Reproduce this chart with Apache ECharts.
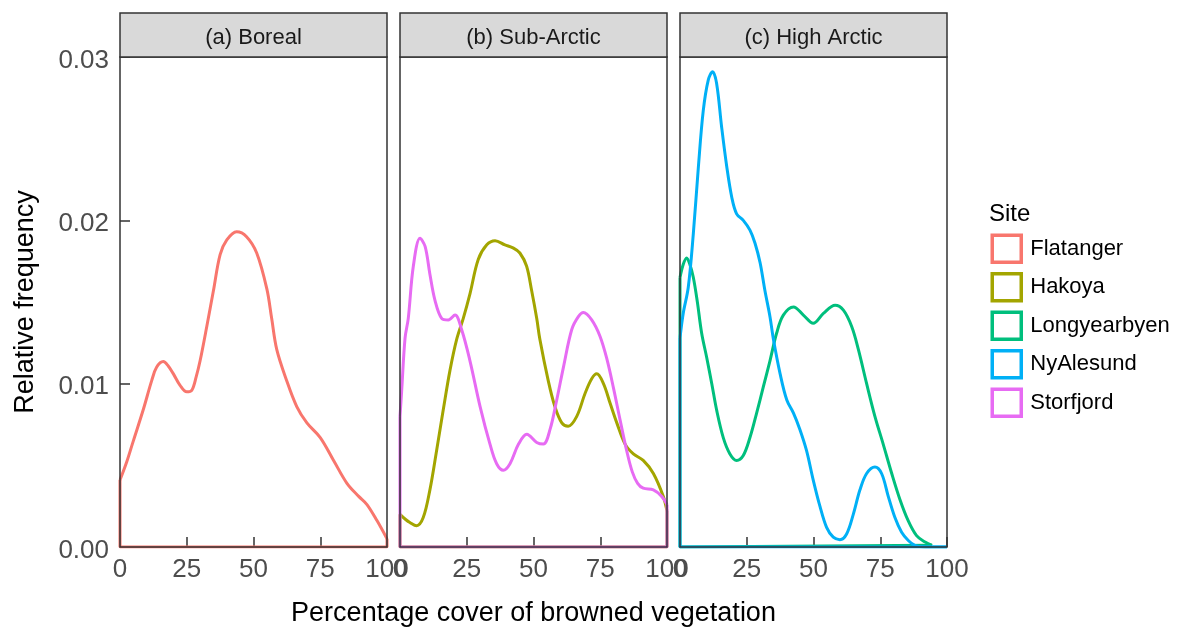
<!DOCTYPE html>
<html>
<head>
<meta charset="utf-8">
<script src="https://cdn.jsdelivr.net/npm/echarts@6/dist/echarts.min.js"></script>
<style>
  html, body { margin: 0; padding: 0; background: #ffffff; }
  #chart { width: 1177px; height: 628px; }
</style>
</head>
<body>
<div id="chart"></div>
<script>
// Sites, facet panels and tick values
const sites = ['Flatanger', 'Hakoya', 'Longyearbyen', 'NyAlesund', 'Storfjord'];
const siteColors = ['#F8766D', '#A3A500', '#00BF7D', '#00B0F6', '#E76BF3'];
const panelTitles = ['(a) Boreal', '(b) Sub-Arctic', '(c) High Arctic'];
const panelSites = [['Flatanger'], ['Hakoya', 'Storfjord'], ['Longyearbyen', 'NyAlesund']];
const xTicks = [0, 25, 50, 75, 100];
const yTicks = [0, 0.01, 0.02, 0.03];

// Density estimates: [percentage cover, relative frequency]
const flatanger = [
  [0, 0.0041], [2.5, 0.0052], [5, 0.0065], [8.7, 0.0084], [11.9, 0.0102], [13.7, 0.0110],
  [16.2, 0.01135], [18, 0.0111], [20, 0.0106], [22.5, 0.0099], [25, 0.0095], [26.9, 0.0096],
  [28.5, 0.0104], [30, 0.0114], [32.5, 0.0135], [35, 0.0157], [37.5, 0.0179], [40, 0.0188],
  [43.7, 0.0193], [47.4, 0.0190], [51.2, 0.0180], [55, 0.0158], [56.8, 0.0140], [58.7, 0.0121],
  [62.4, 0.0102], [66.2, 0.0086], [70, 0.0076], [75, 0.0067], [80, 0.0053], [85, 0.0039],
  [89.4, 0.0031], [92.5, 0.0026], [96.3, 0.0016], [100, 0.0005]
];
const hakoya = [
  [0, 0.0020], [2, 0.0017], [3.7, 0.0015], [6.2, 0.0013], [8.7, 0.0018], [11.2, 0.0035],
  [13.7, 0.0059], [16.2, 0.0084], [18.7, 0.0108], [21.2, 0.0127], [23.7, 0.0140], [26.2, 0.0155],
  [29.3, 0.0176], [32.5, 0.0185], [35.6, 0.01875], [39.3, 0.0185], [42.5, 0.0183], [44.9, 0.0180],
  [47.4, 0.0172], [49.3, 0.0157], [51.2, 0.0140], [52.4, 0.0127], [55.5, 0.0102], [58, 0.0086],
  [60.6, 0.0076], [63, 0.0074], [66.2, 0.0080], [69.3, 0.0094], [71.8, 0.0103], [73.7, 0.0106],
  [76.2, 0.0100], [78.7, 0.0088], [81.2, 0.0076], [84.3, 0.0063], [87.4, 0.0057], [91.1, 0.0053],
  [94.9, 0.0045], [98.6, 0.0031], [100, 0.0022]
];
const longyearbyen = [
  [0, 0.0165], [1.2, 0.0173], [2.5, 0.0177], [3.7, 0.0173], [5, 0.0165], [6.5, 0.0150],
  [8.1, 0.0131], [10, 0.0116], [11.9, 0.0100], [13.7, 0.0084], [16.2, 0.0067], [18.7, 0.0057],
  [21.2, 0.0053], [23.7, 0.0056], [26.2, 0.0067], [28.7, 0.0082], [31.2, 0.0098], [33.7, 0.0114],
  [36.2, 0.0131], [38.7, 0.0142], [42.5, 0.0147], [46.2, 0.0142], [49.9, 0.0137], [53.7, 0.0143],
  [58.1, 0.0148], [61.2, 0.0145], [64.3, 0.0135], [66.8, 0.0121], [69.9, 0.0100], [73, 0.0080],
  [76.1, 0.0063], [79.3, 0.0045], [82.4, 0.0029], [85.5, 0.0016], [88.6, 0.0007], [91.8, 0.0003],
  [94.4, 0.0001]
];
const nyAlesund = [
  [0, 0.0128], [1.2, 0.0143], [3.1, 0.0159], [5, 0.0192], [6.9, 0.0233], [8.7, 0.0267],
  [10.6, 0.0286], [12.2, 0.0291], [13.7, 0.0284], [15.6, 0.0257], [17.5, 0.0233], [19.4, 0.0214],
  [21.2, 0.0204], [23.7, 0.0200], [26.2, 0.0194], [28.1, 0.0186], [30, 0.0174], [31.8, 0.0157],
  [33.7, 0.0141], [35, 0.0127], [37.5, 0.0106], [40, 0.0090], [42.5, 0.0082], [44.9, 0.0072],
  [47.4, 0.0059], [49.9, 0.0041], [52.4, 0.0025], [54.9, 0.0012], [57.4, 0.0006], [59.9, 0.00045],
  [62.4, 0.0008], [64.9, 0.0020], [67.4, 0.0035], [69.9, 0.0045], [73, 0.0049], [75.5, 0.0045],
  [78, 0.0031], [80.5, 0.0018], [83, 0.0009], [85.5, 0.0004], [88, 0.0001], [92, 0], [100, 0]
];
const storfjord = [
  [0, 0.0080], [0.6, 0.0095], [1.9, 0.0128], [3.1, 0.0140], [5, 0.0172], [7.5, 0.0189],
  [9.4, 0.0184], [11.2, 0.0167], [13.1, 0.0151], [15.6, 0.0140], [18.1, 0.0139], [20.6, 0.0142],
  [23.1, 0.0133], [26.2, 0.0114], [30, 0.0086], [33.7, 0.0063], [36.2, 0.0051], [38.7, 0.0047],
  [41.2, 0.0051], [44.4, 0.0063], [47.5, 0.0069], [51.2, 0.0064], [53.7, 0.0063], [56.2, 0.0072],
  [58.7, 0.0090], [61.2, 0.0110], [64.3, 0.0133], [66.8, 0.0141], [68.7, 0.01435], [71.8, 0.0139],
  [74.9, 0.0129], [77.5, 0.0115], [80, 0.0097], [82.4, 0.0078], [84.9, 0.0059], [87, 0.0046],
  [89, 0.0039], [91.1, 0.0036], [94.9, 0.0035], [98, 0.0031], [100, 0.0026]
];
const siteData = {
  Flatanger: flatanger, Hakoya: hakoya, Longyearbyen: longyearbyen,
  NyAlesund: nyAlesund, Storfjord: storfjord
};

// Panel geometry (pixels)
const FONT = 'Liberation Sans, Arial, sans-serif';
const PANEL_LEFT = [120, 400, 680];
const PANEL_W = 267;
const PANEL_TOP = 57;
const PANEL_H = 490;
const STRIP_TOP = 13;
const BORDER = '#333333';
const LINE_W = 3;

const grids = [], xAxes = [], yAxes = [], series = [], graphics = [];

PANEL_LEFT.forEach((left, i) => {
  grids.push({
    left: left, top: PANEL_TOP, width: PANEL_W, height: PANEL_H,
    show: true, backgroundColor: '#ffffff', borderWidth: 0,
    containLabel: false, outerBoundsMode: 'none'
  });
  xAxes.push({
    type: 'value', gridIndex: i, min: xTicks[0], max: xTicks[xTicks.length - 1],
    interval: xTicks[1] - xTicks[0],
    axisLine: { show: false },
    axisTick: { show: true, inside: true, length: 10, lineStyle: { color: BORDER, width: 1.5 } },
    axisLabel: { show: true, margin: 10, fontSize: 26, color: '#4D4D4D', fontFamily: FONT },
    splitLine: { show: false },
    name: i === 1 ? 'Percentage cover of browned vegetation' : '',
    nameLocation: 'middle', nameGap: 53,
    nameTextStyle: { fontSize: 27, color: '#000000', fontFamily: FONT }
  });
  yAxes.push({
    type: 'value', gridIndex: i, min: yTicks[0], max: yTicks[yTicks.length - 1],
    interval: yTicks[1] - yTicks[0],
    axisLine: { show: false },
    axisTick: { show: i === 0, inside: true, length: 10, lineStyle: { color: BORDER, width: 1.5 } },
    axisLabel: {
      show: i === 0, margin: 11,
      formatter: v => '{t|' + v.toFixed(2) + '}',
      rich: {
        t: { fontSize: 26, color: '#4D4D4D', fontFamily: FONT, padding: [7, 0, 0, 0] }
      }
    },
    splitLine: { show: false },
    name: i === 0 ? 'Relative frequency' : '',
    nameLocation: 'middle', nameGap: 81,
    nameTextStyle: { fontSize: 27, color: '#000000', fontFamily: FONT }
  });

  // panel border, drawn above the curves
  graphics.push({
    type: 'rect', z: 100, silent: true,
    shape: { x: left, y: PANEL_TOP, width: PANEL_W, height: PANEL_H },
    style: { fill: null, stroke: BORDER, lineWidth: 1.5 }
  });
  // facet strip
  graphics.push({
    type: 'rect', z: 100,
    shape: { x: left, y: STRIP_TOP, width: PANEL_W, height: PANEL_TOP - STRIP_TOP },
    style: { fill: '#D9D9D9', stroke: BORDER, lineWidth: 1.5 }
  });
  graphics.push({
    type: 'text', z: 101,
    style: {
      text: panelTitles[i], x: left + PANEL_W / 2, y: (STRIP_TOP + PANEL_TOP) / 2 + 3,
      align: 'center', verticalAlign: 'middle',
      fontSize: 22, fontFamily: FONT, fill: '#1A1A1A'
    }
  });

  panelSites[i].forEach(name => {
    const pts = siteData[name];
    const color = siteColors[sites.indexOf(name)];
    const first = pts[0], last = pts[pts.length - 1];
    // density curve
    series.push({
      name: name, type: 'line', xAxisIndex: i, yAxisIndex: i,
      data: pts, smooth: 0.35,
      symbol: 'none', showSymbol: false, silent: true,
      lineStyle: { color: color, width: LINE_W, join: 'round' }, itemStyle: { color: color }
    });
    // closing outline of the density polygon along the baseline
    series.push({
      name: name, type: 'line', xAxisIndex: i, yAxisIndex: i,
      data: [[last[0], last[1]], [last[0], 0], [first[0], 0], [first[0], first[1]]],
      smooth: false, symbol: 'none', showSymbol: false, silent: true,
      lineStyle: { color: color, width: LINE_W }, itemStyle: { color: color }
    });
  });
});

const option = {
  animation: false,
  backgroundColor: '#ffffff',
  textStyle: { fontFamily: FONT },
  title: {
    text: 'Site', left: 989, top: 202, padding: 0,
    textStyle: { fontSize: 24, fontWeight: 'normal', color: '#000000', fontFamily: FONT }
  },
  legend: {
    orient: 'vertical', left: 990.5, top: 233.5, padding: 0,
    itemWidth: 29, itemHeight: 27, itemGap: 8,
    icon: 'rect', selectedMode: false,
    textStyle: { fontSize: 22, color: '#000000', fontFamily: FONT, padding: [6, 0, 0, 4] },
    data: sites.map((s, k) => ({
      name: s, icon: 'rect',
      itemStyle: { color: '#ffffff', borderColor: siteColors[k], borderWidth: 3.5 }
    }))
  },
  grid: grids,
  xAxis: xAxes,
  yAxis: yAxes,
  series: series,
  graphic: graphics
};

const chart = echarts.init(document.getElementById('chart'), null, { renderer: 'canvas' });
chart.setOption(option);
</script>
</body>
</html>
